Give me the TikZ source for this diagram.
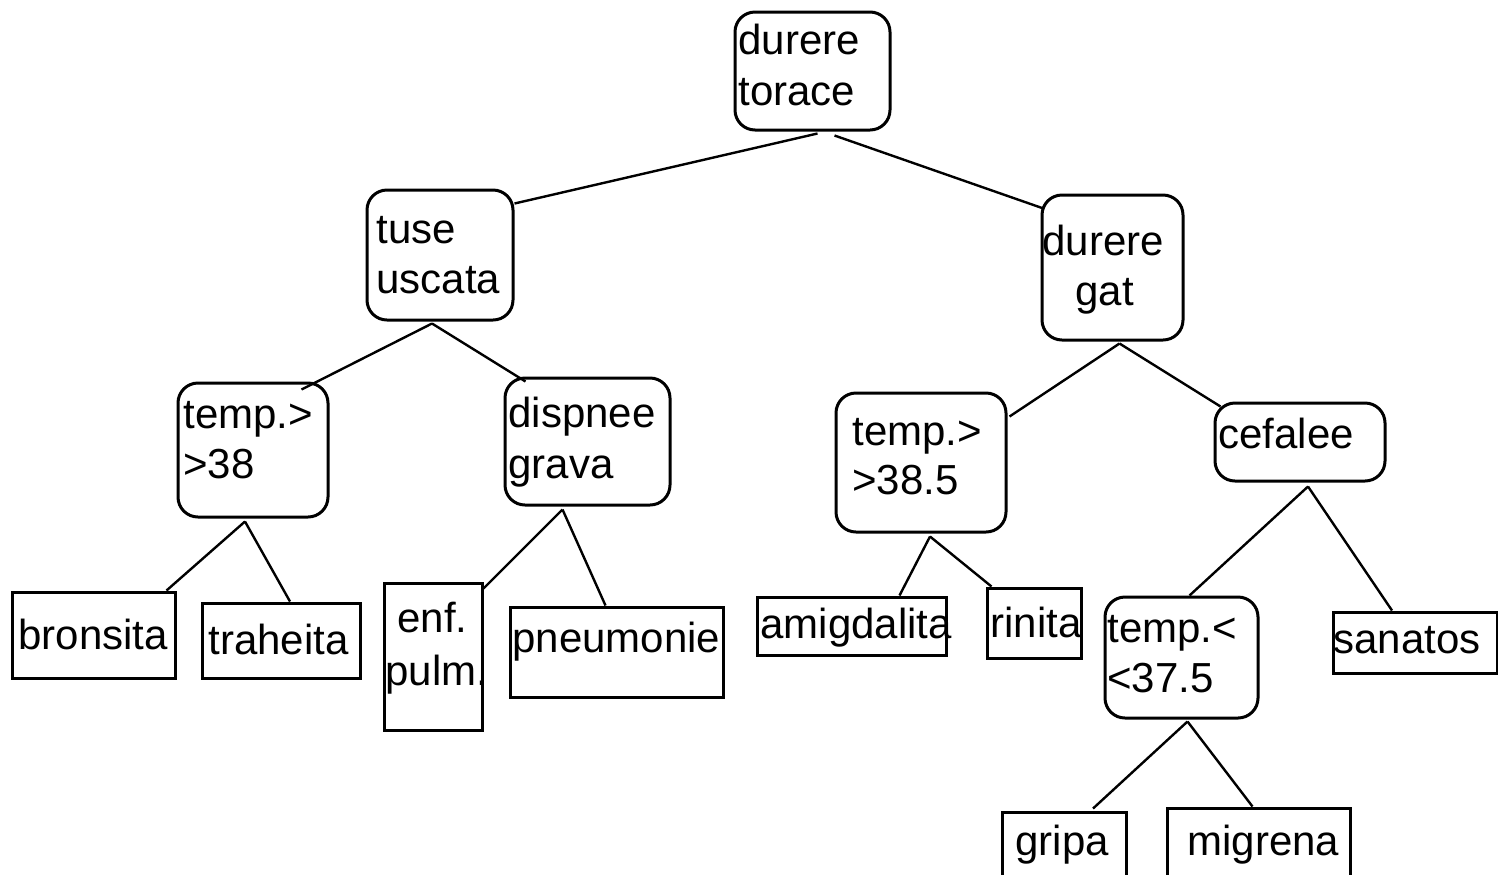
\documentclass[tikz,border=0pt]{standalone}
\usepackage{fontspec}
\setmainfont{Liberation Sans}
\usetikzlibrary{fit,calc}
\tikzset{
  rbox/.style={draw, line width=1.5pt, rounded corners=10pt, inner sep=0pt},
  sbox/.style={draw, line width=1.5pt, inner sep=0pt},
  txt/.style={anchor=base west, inner sep=0pt, font=\fontsize{21pt}{25pt}\selectfont},
  edge/.style={line width=1.2pt}
}
\begin{document}
\begin{tikzpicture}[x=0.5pt,y=-0.5pt]
\useasboundingbox (0,0) rectangle (1498,874);
% inner nodes
\node[rbox, fit={(735,12) (890,130)}] (torace) {};
\node[txt] (t1a) at (738,54) {durere};
\node[txt] (t1b) at (738,105) {torace};
\node[rbox, fit={(367,190) (513,320)}] (tuse) {};
\node[txt] (t2a) at (376,243) {tuse};
\node[txt] (t2b) at (376,293) {uscata};
\node[rbox, fit={(1042,195) (1183,340)}] (gat) {};
\node[txt] (t3a) at (1042,255) {durere};
\node[txt] (t3b) at (1075,305) {gat};
\node[rbox, fit={(178,383) (328,517)}] (tempa) {};
\node[txt] (t4a) at (183,428) {temp.>};
\node[txt] (t4b) at (183,478) {>38};
\node[rbox, fit={(505,378) (670,505)}] (disp) {};
\node[txt] (t5a) at (508,427) {dispnee};
\node[txt] (t5b) at (508,478) {grava};
\node[rbox, fit={(836,393) (1006,532)}] (tempb) {};
\node[txt] (t6a) at (852,445) {temp.>};
\node[txt] (t6b) at (852,494) {>38.5};
\node[rbox, fit={(1215,403) (1385,481)}] (cef) {};
\node[txt] (t7) at (1218,448) {cefalee};
\node[rbox, fit={(1105,597) (1258,718)}] (tempc) {};
\node[txt] (t8a) at (1107,642) {temp.<};
\node[txt] (t8b) at (1107,692) {<37.5};
% leaves
\node[sbox, fit={(12,592) (175,678)}] (bron) {};
\node[txt] (l1) at (18,649) {bronsita};
\node[sbox, fit={(202,603) (360,678)}] (trah) {};
\node[txt] (l2) at (208,654) {traheita};
\node[sbox, fit={(384,583) (482,730)}] (enf) {};
\node[txt] (l3a) at (397,632) {enf.};
\node[txt] (l3b) at (385,685) {pulm.};
\node[sbox, fit={(510,607) (723,697)}] (pneu) {};
\node[txt] (l4) at (512,652) {pneumonie};
\node[sbox, fit={(757,597) (946,655)}] (amig) {};
\node[txt] (l5) at (760,638) {amigdalita};
\node[sbox, fit={(987,588) (1081,658)}] (rin) {};
\node[txt] (l6) at (990,637) {rinita};
\node[sbox, fit={(1333,612) (1497,673)}] (san) {};
\node[txt] (l7) at (1333,653) {sanatos};
\node[sbox, fit={(1002,812) (1126,890)}] (grip) {};
\node[txt] (l8) at (1015,855) {gripa};
\node[sbox, fit={(1167,808) (1350,890)}] (migr) {};
\node[txt] (l9) at (1187,855) {migrena};
% connectors
\draw[edge] ($(torace.south)+(5,2)$) -- ($(tuse.north east)+(0,15)$);
\draw[edge] ($(torace.south)+(22,4)$) -- ($(gat.north west)+(3,15)$);
\draw[edge] ($(tuse.south)+(-8,2)$) -- ($(tempa.north east)+(-28,8)$);
\draw[edge] ($(tuse.south)+(-8,2)$) -- ($(disp.north west)+(22,5)$);
\draw[edge] ($(gat.south)+(7,2)$) -- ($(tempb.north east)+(2,25)$);
\draw[edge] ($(gat.south)+(7,2)$) -- ($(cef.north west)+(7,5)$);
\draw[edge] ($(tempa.south)+(-8,3)$) -- ($(bron.north east)+(-10,0)$);
\draw[edge] ($(tempa.south)+(-8,3)$) -- ($(trah.north)+(9,0)$);
\draw[edge] ($(disp.south)+(-25,3)$) -- ($(enf.north east)+(0,7)$);
\draw[edge] ($(disp.south)+(-25,3)$) -- ($(pneu.north)+(-11,0)$);
\draw[edge] ($(tempb.south)+(9,3)$) -- ($(amig.north)+(48,0)$);
\draw[edge] ($(tempb.south)+(9,3)$) -- ($(rin.north west)+(6,0)$);
\draw[edge] ($(cef.south)+(8,4)$) -- ($(tempc.north)+(8,0)$);
\draw[edge] ($(cef.south)+(8,4)$) -- ($(san.north)+(-23,0)$);
\draw[edge] ($(tempc.south)+(6,2)$) -- ($(grip.north)+(29,-2)$);
\draw[edge] ($(tempc.south)+(6,2)$) -- ($(migr.north)+(-6,0)$);
\end{tikzpicture}
\end{document}
